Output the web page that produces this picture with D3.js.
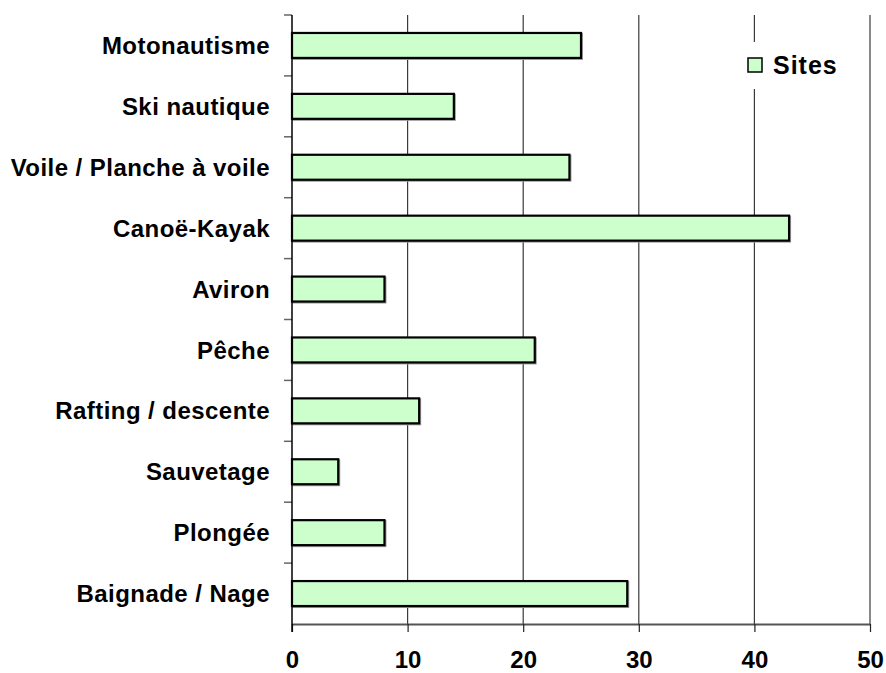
<!DOCTYPE html>
<html>
<head>
<meta charset="utf-8">
<script src="https://cdn.jsdelivr.net/npm/d3@7"></script>
<style>
  html, body { margin: 0; padding: 0; background: #fff; }
  svg { display: block; }
  text { font-family: "Liberation Sans", Arial, sans-serif; font-weight: bold; fill: #000; }
</style>
</head>
<body>
<svg id="chart" width="886" height="673"></svg>
<script>
// Activities (top to bottom) and number of sites
const categories = [
  "Motonautisme",
  "Ski nautique",
  "Voile / Planche à voile",
  "Canoë-Kayak",
  "Aviron",
  "Pêche",
  "Rafting / descente",
  "Sauvetage",
  "Plongée",
  "Baignade / Nage"
];
const sites = [25, 14, 24, 43, 8, 21, 11, 4, 8, 29];
const xTicks = [0, 10, 20, 30, 40, 50];
const seriesName = "Sites";

const svg = d3.select("#chart");
const plot = { left: 292, right: 870, top: 15, bottom: 624 };

const x = d3.scaleLinear().domain([0, 50]).range([plot.left, plot.right]);
const y = d3.scaleBand().domain(categories).range([plot.top, plot.bottom]).paddingInner(0.59).paddingOuter(0.295);
const band = d3.scaleBand().domain(categories).range([plot.top, plot.bottom]);

// vertical gridlines
svg.append("g")
  .selectAll("line")
  .data(xTicks.slice(1))
  .join("line")
  .attr("x1", d => x(d)).attr("x2", d => x(d))
  .attr("y1", plot.top).attr("y2", plot.bottom)
  .attr("stroke", "#3a3a3a").attr("stroke-width", 1.2);

// bottom axis
const xAxis = svg.append("g")
  .attr("transform", `translate(0,${plot.bottom})`)
  .call(d3.axisBottom(x).tickValues(xTicks).tickSize(8).tickSizeOuter(0));
xAxis.select(".domain").attr("stroke", "#555").attr("stroke-width", 2);
xAxis.selectAll(".tick line").attr("stroke", "#222").attr("stroke-width", 1.2);
xAxis.selectAll(".tick text")
  .attr("y", 44).attr("dy", null)
  .attr("font-size", 24).attr("font-family", "Liberation Sans, Arial, sans-serif")
  .attr("font-weight", "bold").attr("fill", "#000");

// bar shadows
svg.append("g")
  .selectAll("rect")
  .data(sites)
  .join("rect")
  .attr("x", x(0) + 1)
  .attr("y", (d, i) => y(categories[i]) + 1)
  .attr("width", d => x(d) - x(0))
  .attr("height", y.bandwidth())
  .attr("fill", "none").attr("stroke", "#999").attr("stroke-width", 2);

// bars
svg.append("g")
  .selectAll("rect")
  .data(sites)
  .join("rect")
  .attr("x", x(0))
  .attr("y", (d, i) => y(categories[i]))
  .attr("width", d => x(d) - x(0))
  .attr("height", y.bandwidth())
  .attr("fill", "#ccffcc").attr("stroke", "#000").attr("stroke-width", 2.2);

// left axis with category ticks on band edges
const edges = categories.map(c => band(c));
svg.append("g")
  .selectAll("line")
  .data(edges)
  .join("line")
  .attr("x1", plot.left - 8).attr("x2", plot.left)
  .attr("y1", d => d).attr("y2", d => d)
  .attr("stroke", "#666").attr("stroke-width", 1.5);
svg.append("line")
  .attr("x1", plot.left).attr("x2", plot.left)
  .attr("y1", plot.top).attr("y2", plot.bottom + 8)
  .attr("stroke", "#000").attr("stroke-width", 1.5);

// category labels
svg.append("g")
  .selectAll("text")
  .data(categories)
  .join("text")
  .attr("x", 270)
  .attr("y", d => band(d) + band.bandwidth() / 2)
  .attr("dy", "0.36em")
  .attr("text-anchor", "end")
  .attr("font-size", 24)
  .attr("letter-spacing", 0.45)
  .text(d => d);

// legend
const lg = svg.append("g");
lg.append("rect").attr("x", 738).attr("y", 42).attr("width", 110).attr("height", 47).attr("fill", "#fff");
lg.append("rect").attr("x", 748).attr("y", 58).attr("width", 14).attr("height", 14)
  .attr("fill", "#ccffcc").attr("stroke", "#000").attr("stroke-width", 1.5);
lg.append("text").attr("x", 773).attr("y", 74).attr("font-size", 25).attr("letter-spacing", 1).text(seriesName);
</script>
</body>
</html>
